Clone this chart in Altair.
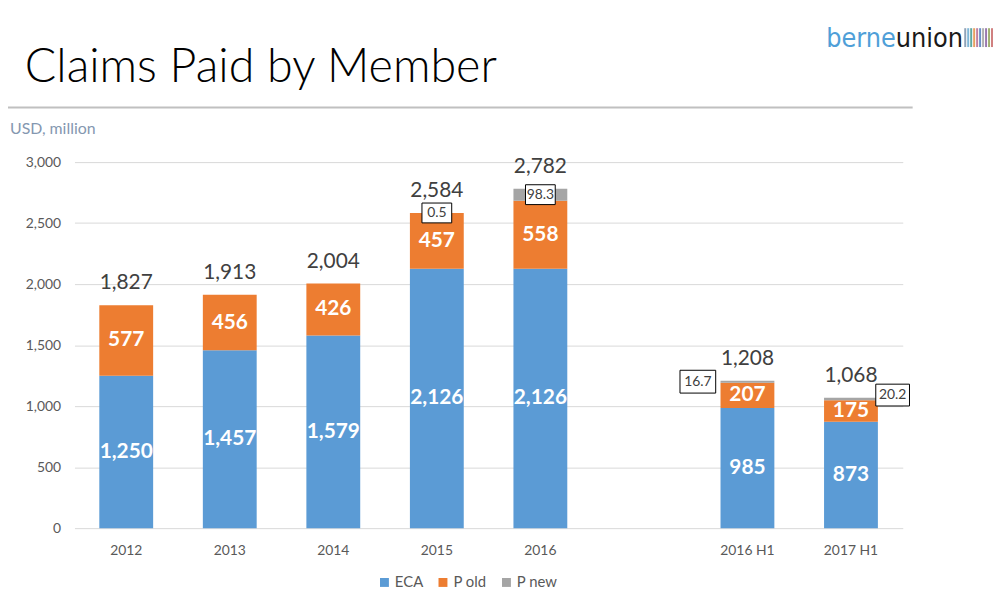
import altair as alt
import pandas as pd

# ---- data ----
categories = ["2012", "2013", "2014", "2015", "2016", "2016 H1", "2017 H1"]
axis_domain = ["2012", "2013", "2014", "2015", "2016", " ", "2016 H1", "2017 H1"]
eca = [1250, 1457, 1579, 2126, 2126, 985, 873]
p_old = [577, 456, 426, 457, 558, 207, 175]
p_new = [0, 0, 0, 0.5, 98.3, 16.7, 20.2]
totals = [1827, 1913, 2004, 2584, 2782, 1208, 1068]
box_side = ["", "", "", "center", "center", "left", "right"]
series = ["ECA", "P old", "P new"]
colors = ["#5b9bd5", "#ed7d31", "#a5a5a5"]
y_ticks = [0, 500, 1000, 1500, 2000, 2500, 3000]
stripe_colors = ["#8fa3b8", "#7fb7d8", "#5fa8a0", "#e8a060", "#c080a0",
                 "#6a8fc8", "#b0b0b0", "#9a78b0", "#a0b070", "#d08080"]

FONT = "Lato"
LOGO_FONT = "Liberation Sans Narrow, DejaVu Sans Condensed, Lato, sans-serif"

rows = []
for i, c in enumerate(categories):
    for k, (s, vals) in enumerate(zip(series, [eca, p_old, p_new])):
        rows.append({"cat": c, "series": s, "order": k, "value": vals[i],
                     "side": box_side[i] if s == "P new" else ""})
long_df = pd.DataFrame(rows)
tot_df = pd.DataFrame({"cat": categories, "total": totals})
one = pd.DataFrame({"a": [1]})

xenc = alt.X("cat:N",
             scale=alt.Scale(domain=axis_domain, paddingInner=0.48, paddingOuter=0.24),
             axis=alt.Axis(title=None, labelAngle=0, ticks=False, domain=False,
                           labelFontSize=14, labelColor="#595959", labelFont=FONT,
                           labelPadding=16))
yscale = alt.Scale(domain=[0, 3000])

base = (alt.Chart(long_df)
        .transform_stack(stack="value", groupby=["cat"],
                         sort=[alt.SortField("order", order="ascending")],
                         as_=["y0", "y1"])
        .transform_calculate(mid="(datum.y0 + datum.y1) / 2"))

bars = base.mark_bar().encode(
    x=xenc,
    y=alt.Y("y1:Q", scale=yscale,
            axis=alt.Axis(values=y_ticks, format=",.0f", title=None, domain=False,
                          ticks=False, gridColor="#d9d9d9", labelFontSize=14,
                          labelColor="#595959", labelFont=FONT, labelPadding=14)),
    y2="y0:Q",
    color=alt.Color("series:N", scale=alt.Scale(domain=series, range=colors),
                    legend=alt.Legend(orient="none", legendX=305, legendY=416,
                                      direction="horizontal", title=None,
                                      symbolType="square", symbolSize=81,
                                      symbolStrokeWidth=0, labelFontSize=15,
                                      labelColor="#595959", labelFont=FONT,
                                      columnPadding=12, padding=0, labelOffset=3)),
)

inner = base.transform_filter("datum.series != 'P new'").mark_text(
    color="white", fontWeight="bold", fontSize=21, font=FONT, baseline="middle"
).encode(x=alt.X("cat:N", scale=alt.Scale(domain=axis_domain)),
         y=alt.Y("mid:Q", scale=yscale),
         text=alt.Text("value:Q", format=","))

def box_layer(side, w, h, dx, dy):
    s = w / 2.0
    path = f"M-1,-{h/w:.4f}L1,-{h/w:.4f}L1,{h/w:.4f}L-1,{h/w:.4f}Z"
    sub = base.transform_filter(f"datum.side == '{side}'")
    box = sub.mark_point(shape=path, size=(2 * s) ** 2, filled=True, fill="white",
                         stroke="black", strokeWidth=1, opacity=1,
                         xOffset=dx, yOffset=dy).encode(
        x=alt.X("cat:N", scale=alt.Scale(domain=axis_domain)),
        y=alt.Y("mid:Q", scale=yscale))
    txt = sub.mark_text(fontSize=14, color="#404040", font=FONT, baseline="middle",
                        xOffset=dx, yOffset=dy).encode(
        x=alt.X("cat:N", scale=alt.Scale(domain=axis_domain)),
        y=alt.Y("mid:Q", scale=yscale),
        text=alt.Text("value:Q", format=".1f"))
    return [box, txt]

boxes = box_layer("center", 30, 20, 0, 0) + box_layer("left", 36, 23, -50, 0) \
    + box_layer("right", 34, 22, 42, -4)

tot = alt.Chart(tot_df).mark_text(fontSize=21, color="#404040", font=FONT,
                                  baseline="middle", yOffset=-22).encode(
    x=alt.X("cat:N", scale=alt.Scale(domain=axis_domain)),
    y=alt.Y("total:Q", scale=yscale),
    text=alt.Text("total:Q", format=","))

title = alt.Chart(one).mark_text(text="Claims Paid by Member", align="left",
                                 baseline="middle", fontSize=47, font=FONT,
                                 fontWeight=300, color="#000000").encode(
    x=alt.value(-50), y=alt.value(-95))
rule = alt.Chart(one).mark_rule(color="#c0c0c0", strokeWidth=2).encode(
    x=alt.value(-67), x2=alt.value(845), y=alt.value(-55))
unit = alt.Chart(one).mark_text(text="USD, million", align="left", baseline="middle",
                                fontSize=16, font=FONT, color="#8497b0").encode(
    x=alt.value(-65), y=alt.value(-33))
logo1 = alt.Chart(one).mark_text(text="berne", align="right", baseline="alphabetic",
                                 fontSize=27, font=LOGO_FONT,
                                 color="#4f9fd8").encode(x=alt.value(828), y=alt.value(-116))
logo2 = alt.Chart(one).mark_text(text="union", align="left", baseline="alphabetic",
                                 fontSize=27, font=LOGO_FONT,
                                 color="#1a1a1a").encode(x=alt.value(828), y=alt.value(-116))
stripes = [alt.Chart(one).mark_rule(color=c, strokeWidth=2).encode(
    x=alt.value(898 + 3 * i), y=alt.value(-135), y2=alt.value(-116))
    for i, c in enumerate(stripe_colors)]

chart = alt.layer(bars, inner, *boxes, tot, title, rule, unit, logo1, logo2, *stripes).properties(
    width=835, height=369,
    autosize=alt.AutoSizeParams(type="none"),
    padding={"left": 67, "top": 153, "right": 92, "bottom": 60},
).configure_view(stroke=None)

chart.save("out.html", embed_options={"renderer": "svg", "actions": False})
